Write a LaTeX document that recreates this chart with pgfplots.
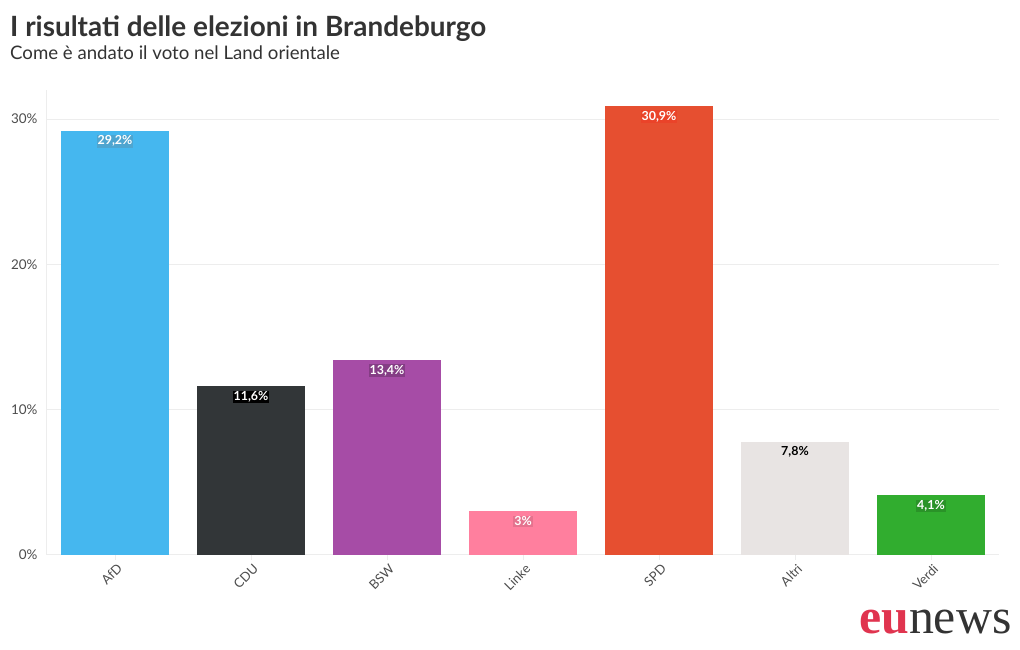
\documentclass[border=0pt]{standalone}
\usepackage{pgfplots}
\pgfplotsset{compat=1.18}
\usetikzlibrary{backgrounds}
\usepackage{fontspec}
\setmainfont{Lato}
\newfontfamily\logoserif{Liberation Serif}
\definecolor{cAfD}{HTML}{45B7EF}
\definecolor{cCDU}{HTML}{323638}
\definecolor{cBSW}{HTML}{A64CA6}
\definecolor{cLinke}{HTML}{FF7F9E}
\definecolor{cSPD}{HTML}{E64F30}
\definecolor{cAltri}{HTML}{E8E4E3}
\definecolor{cVerdi}{HTML}{31AD2F}
\definecolor{gridc}{HTML}{EDEDED}
\definecolor{txt}{HTML}{333333}
\definecolor{ticktxt}{HTML}{4D4D4D}
\definecolor{logored}{HTML}{E0344F}
\begin{document}
\begin{tikzpicture}[x=1bp,y=1bp]
\begin{axis}[
  scale only axis, width=952bp, height=465bp,
  xmin=-0.5, xmax=6.5, ymin=0, ymax=32,
  axis x line*=bottom, axis y line*=left,
  axis line style={draw=gridc, line width=1bp},
  ytick={0,10,20,30}, yticklabels={0\%,10\%,20\%,30\%},
  ymajorgrids, major grid style={draw=gridc, line width=1bp},
  xtick={0,1,2,3,4,5,6},
  xticklabels={AfD,CDU,BSW,Linke,SPD,Altri,Verdi},
  tick align=outside,
  x tick style={draw=gridc, line width=1bp},
  y tick style={draw=none},
  major tick length=5bp,
  yticklabel style={font=\fontsize{13.5}{15}\selectfont, text=ticktxt, xshift=-1bp},
  xticklabel style={font=\fontsize{13}{15}\selectfont, text=ticktxt, rotate=45, anchor=north east, inner sep=1bp, yshift=-2bp},
  ybar, bar width=108bp, bar shift=0pt,
  point meta=explicit symbolic,
  nodes near coords,
  nodes near coords style={anchor=north, yshift=-4bp, font=\fontsize{12.5}{14}\selectfont\bfseries, text=white, inner sep=1bp},
  clip=false,
]
\addplot[fill=cAfD, draw=none, nodes near coords style={fill=cAfD!85!black!90}] coordinates {(0,29.2) [{29,2\%}]};
\addplot[fill=cCDU, draw=none, nodes near coords style={fill=black}] coordinates {(1,11.6) [{11,6\%}]};
\addplot[fill=cBSW, draw=none, nodes near coords style={fill=cBSW!80!black}] coordinates {(2,13.4) [{13,4\%}]};
\addplot[fill=cLinke, draw=none, nodes near coords style={fill=cLinke!90!black}] coordinates {(3,3.0) [{3\%}]};
\addplot[fill=cSPD, draw=none, nodes near coords style={fill=cSPD!85!red}] coordinates {(4,30.9) [{30,9\%}]};
\addplot[fill=cAltri, draw=none, nodes near coords style={text=black}] coordinates {(5,7.8) [{7,8\%}]};
\addplot[fill=cVerdi, draw=none, nodes near coords style={fill=cVerdi!85!black}] coordinates {(6,4.1) [{4,1\%}]};
\coordinate (o) at (rel axis cs:0,0);
\end{axis}
\pgfresetboundingbox
\begin{scope}[shift={(o)}, xshift=-47bp, yshift=-95bp]
\path[use as bounding box] (0,0) rectangle (1020,650);
\begin{scope}[on background layer]
\fill[white] (0,0) rectangle (1020,650);
\end{scope}
\node[anchor=base west, inner sep=0, text=txt, font=\fontsize{28}{32}\selectfont\bfseries] at (10,613) {I risultati delle elezioni in Brandeburgo};
\node[anchor=base west, inner sep=0, text=txt, font=\fontsize{18.7}{22}\selectfont] at (10,590) {Come è andato il voto nel Land orientale};
\node[anchor=base west, inner sep=0] at (859,16) {\logoserif\fontsize{50}{52}\selectfont{\bfseries\color{logored}eu}{\color{txt}news}};
\end{scope}
\end{tikzpicture}
\end{document}
